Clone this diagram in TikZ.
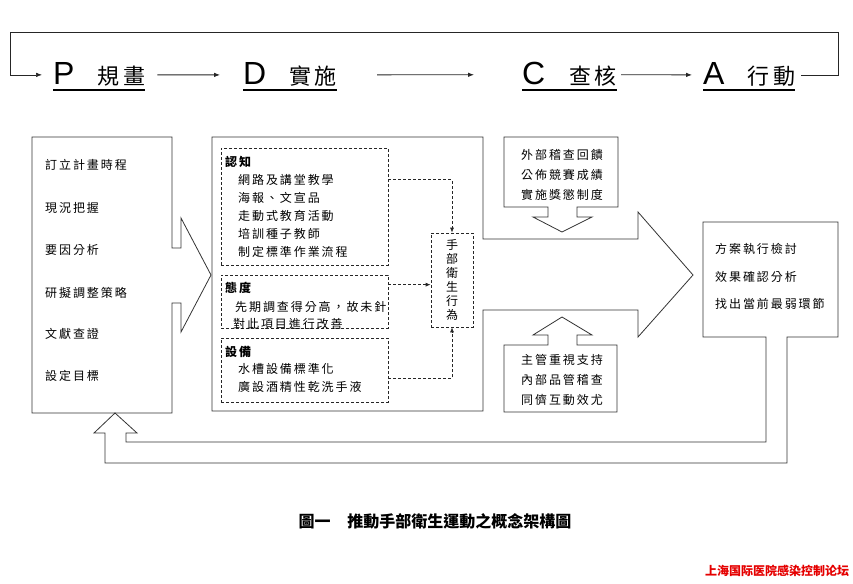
\documentclass[tikz,border=0pt]{standalone}
\usepackage{fontspec}
\usepackage{tikz}
\usetikzlibrary{arrows.meta}
\setmainfont{Noto Sans CJK TC}
\newfontfamily\itemfont[LetterSpace=16]{Noto Sans CJK TC}
\newfontfamily\scfont{Noto Sans CJK SC}
\newfontfamily\pdcafont{Liberation Sans}

\begin{document}
\begin{tikzpicture}[x=1pt,y=-1pt,
  box/.style={draw=black!80,line width=0.8pt},
  dbox/.style={draw=black!85,line width=0.7pt,dash pattern=on 3pt off 2pt,inner sep=0,minimum width=167},
  item/.style={anchor=west,inner sep=0,font=\itemfont\fontsize{12}{12}\selectfont},
  head/.style={item,font=\itemfont\bfseries\fontsize{12}{12}\selectfont},
  mid/.style={item,anchor=center},
  phase/.style={anchor=base west,inner sep=0},
  arr/.style={draw=black!85,line width=0.8pt,-{Latex[length=6pt,width=4.5pt]}},
  darr/.style={draw=black!85,line width=0.7pt,dash pattern=on 3pt off 2pt,-{Latex[length=5pt,width=4pt]}},
  uline/.style={line width=1.6pt}
]
  \useasboundingbox[fill=white] (0,0) rectangle (853,583);
  \node[phase] (p) at (53,85) {{\pdcafont\fontsize{32}{32}\selectfont P}\hspace{23pt}{\itemfont\fontsize{22}{22}\selectfont 規畫}};
  \node[phase] (d) at (243,85) {{\pdcafont\fontsize{32}{32}\selectfont D}\hspace{23pt}{\itemfont\fontsize{22}{22}\selectfont 實施}};
  \node[phase] (c) at (522,85) {{\pdcafont\fontsize{32}{32}\selectfont C}\hspace{24pt}{\itemfont\fontsize{22}{22}\selectfont 查核}};
  \node[phase] (a) at (703,85) {{\pdcafont\fontsize{32}{32}\selectfont A}\hspace{23pt}{\itemfont\fontsize{22}{22}\selectfont 行動}};
  \draw[uline] ([yshift=-5pt]p.base west) -- ([yshift=-5pt]p.base east);
  \draw[uline] ([yshift=-5pt]d.base west) -- ([yshift=-5pt]d.base east);
  \draw[uline] ([yshift=-5pt]c.base west) -- ([yshift=-5pt]c.base east);
  \draw[uline] ([yshift=-5pt]a.base west) -- ([yshift=-5pt]a.base east);
  \coordinate (lt) at (10,32);
  \coordinate (rt) at (838,32);
  \draw[arr,shorten <=12pt,shorten >=23pt] (p.east) -- (d.west);
  \draw[arr,shorten <=40pt,shorten >=48pt] (d.east) -- (c.west);
  \draw[arr,shorten <=4pt,shorten >=11pt] (c.east) -- (a.west);
  \draw[arr,line width=0.6pt,shorten <=6pt,shorten >=11pt] (a.east) -| (rt) -- (lt) |- (p.west);

  \draw[box] (32,137) -- (172,137) -- (172,248) -- (181,248) -- (181,218) -- (211,275)
    -- (181,332) -- (181,303) -- (172,303) -- (172,413) -- (32,413) -- cycle;
  \node[item] (p1) at (45,165) {訂立計畫時程};
  \node[item] (p2) at (45,208) {現況把握};
  \node[item] (p3) at (45,250) {要因分析};
  \node[item] (p4) at (45,293) {研擬調整策略};
  \node[item] (p5) at (45,334) {文獻查證};
  \node[item] (p6) at (45,376) {設定目標};

  \draw[box] (212,137) -- (483,137) -- (483,239) -- (638,239) -- (638,212) -- (693,275)
    -- (638,337) -- (638,310) -- (483,310) -- (483,411) -- (212,411) -- cycle;
  \node[dbox,minimum height=117] (cog) at (304.5,206.5) {};
  \node[head] (cog0) at (225,162) {認知};
  \node[item] (cog1) at (238,180) {網路及講堂教學};
  \node[item] (cog2) at (238,198) {海報、文宣品};
  \node[item] (cog3) at (238,216) {走動式教育活動};
  \node[item] (cog4) at (238,234) {培訓種子教師};
  \node[item] (cog5) at (238,252) {制定標準作業流程};
  \node[dbox,minimum height=53] (att) at (304.5,301.5) {};
  \node[head] (att0) at (225,288) {態度};
  \node[item] (att1) at (235,307) {先期調查得分高，故未針};
  \node[item] (att2) at (233,324) {對此項目進行改善};
  \node[dbox,minimum height=64] (eq) at (304.5,370) {};
  \node[head] (eq0) at (225,352) {設備};
  \node[item] (eq1) at (238,369) {水槽設備標準化};
  \node[item] (eq2) at (238,387) {廣設酒精性乾洗手液};
  \node[dbox,minimum width=42,minimum height=94,align=center,font=\fontsize{12}{14}\selectfont] (hand) at (452,280) {手\\部\\衛\\生\\行\\為};
  \draw[darr] ([yshift=-32pt]cog.north east) -| (hand.north);
  \draw[darr] ([yshift=-10pt]att.north east) -- ([yshift=-10pt]att.north east -| hand.west);
  \draw[darr] ([yshift=-41pt]eq.north east) -| (hand.south);

  \draw[box] (504,137) -- (618,137) -- (618,207) -- (577,207) -- (577,217) -- (592,217)
    -- (562,232) -- (533,217) -- (548,217) -- (548,207) -- (504,207) -- cycle;
  \node[mid] (up1) at (562,155) {外部稽查回饋};
  \node[mid] (up2) at (562,175) {公佈競賽成績};
  \node[mid] (up3) at (562,195) {實施獎懲制度};

  \draw[box] (504,345) -- (548,345) -- (548,335) -- (533,335) -- (562,317) -- (592,335)
    -- (577,335) -- (577,345) -- (617,345) -- (617,412) -- (504,412) -- cycle;
  \node[mid] (lo1) at (562,360) {主管重視支持};
  \node[mid] (lo2) at (562,380) {內部品管稽查};
  \node[mid] (lo3) at (562,400) {同儕互動效尤};

  \draw[box] (703,222) -- (838,222) -- (838,337) -- (787,337) -- (787,463) -- (105,463)
    -- (105,433) -- (94,433) -- (115,413) -- (137,433) -- (126,433) -- (126,442)
    -- (766,442) -- (766,337) -- (703,337) -- cycle;
  \node[item] (ac1) at (715,249) {方案執行檢討};
  \node[item] (ac2) at (715,277) {效果確認分析};
  \node[item] (ac3) at (715,304) {找出當前最弱環節};

  \node[font=\bfseries\fontsize{16}{16}\selectfont,inner sep=0] (cap) at (435,521) {圖一\hspace{17pt}推動手部衛生運動之概念架構圖};
  \node[font=\scfont\bfseries\fontsize{12}{12}\selectfont,text=red!90!black,inner sep=0] (mark) at (777,571) {上海国际医院感染控制论坛};
\end{tikzpicture}
\end{document}
